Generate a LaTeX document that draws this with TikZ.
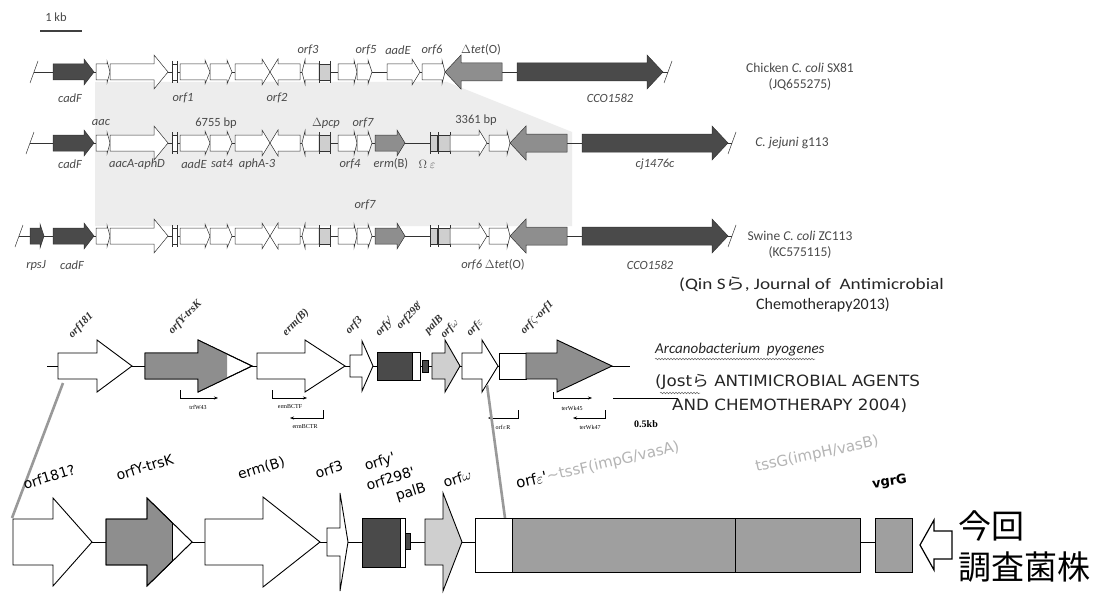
\documentclass[tikz,border=0pt]{standalone}
\usepackage{fontspec}
\setmainfont{Carlito}
\newfontfamily\tnr{Liberation Serif}
\newfontfamily\dvs{DejaVu Sans}
\newfontfamily\jp{Noto Sans CJK JP}
\usetikzlibrary{decorations.pathmorphing,arrows.meta}
\definecolor{dk}{HTML}{4A4A4A}
\definecolor{mg}{HTML}{8E8E8E}
\definecolor{lg}{HTML}{CFCFCF}
\definecolor{sh}{HTML}{EDEDED}
\definecolor{tx}{HTML}{4A4A4A}
\definecolor{ltx}{HTML}{B4B4B4}
\newcommand\RA[6]{(#1,#3-#6) -- (#2-#4,#3-#6) -- (#2-#4,#3-#5) -- (#2,#3) -- (#2-#4,#3+#5) -- (#2-#4,#3+#6) -- (#1,#3+#6) -- cycle}
\newcommand\LA[6]{(#2,#3-#6) -- (#1+#4,#3-#6) -- (#1+#4,#3-#5) -- (#1,#3) -- (#1+#4,#3+#5) -- (#1+#4,#3+#6) -- (#2,#3+#6) -- cycle}
\newcommand\tick[2]{\draw[tg] (#1,#2-11) -- (#1,#2+11);}
\newcommand\commonrow[1]{%
  \draw[tg,fill=dk] \RA{53}{94}{#1}{10}{13}{8};
  \draw[tg,fill=white] \RA{96}{110}{#1}{3}{11}{8};
  \draw[tg,fill=white] \RA{110}{168}{#1}{14}{17}{8};
  \draw[tg,fill=white] (172,#1-8) rectangle (177,#1+8);
  \tick{172}{#1}\tick{177}{#1}
  \draw[tg,fill=white] \RA{180}{210}{#1}{5}{12}{8};
  \draw[tg,fill=white] \RA{210}{232}{#1}{5}{12}{8};
  \draw[tg,fill=white] \RA{235}{270}{#1}{8}{13}{8};
  \draw[tg,fill=white] \LA{270}{300}{#1}{8}{13}{8};
  \draw[tg,fill=white] \LA{302}{319}{#1}{3}{12}{8};
  \draw[tg,fill=lg] (319,#1-8) rectangle (330,#1+8);
  \tick{319}{#1}\tick{330}{#1}
  \draw[tg,fill=white] \RA{338}{357}{#1}{3}{12}{8};
  \draw[tg,fill=white] \RA{357}{372}{#1}{4}{12}{8};
}
\newcommand\tailrow[1]{%
  \draw[tg,fill=mg] \RA{375}{405}{#1}{8}{13}{8};
  \draw[tg,fill=lg] (430,#1-8) rectangle (437,#1+8);
  \draw[tg,fill=lg] (438,#1-8) rectangle (450,#1+8);
  \tick{430}{#1}\tick{438}{#1}\tick{450}{#1}
  \draw[tg,fill=white] \RA{450}{487}{#1}{8}{13}{8};
  \draw[tg,fill=white] \RA{489}{510}{#1}{3}{12}{8};
  \draw[tg,fill=mg] \LA{510}{567}{#1}{16}{17}{9};
  \draw[tg,fill=dk] \RA{582}{728}{#1}{16}{17}{9};
}
\tikzset{
  tg/.style={draw=black!80,line width=0.5pt},
  gl/.style={draw=black,line width=0.9pt},
  tl/.style={font=\itshape\fontsize{12.5}{14}\selectfont,text=tx,inner sep=0pt},
  tu/.style={font=\fontsize{12.5}{14}\selectfont,text=tx,inner sep=0pt},
  rl/.style={font=\fontsize{13.5}{16}\selectfont,text=tx,inner sep=0pt},
  ml/.style={font=\tnr\bfseries\itshape\fontsize{11}{12}\selectfont,text=black!80,inner sep=0pt,rotate=45,anchor=south west},
  pl/.style={font=\tnr\fontsize{6}{7}\selectfont,inner sep=0pt},
  pr/.style={line width=0.5pt,-{Stealth[length=4pt,width=3pt]}},
  bl/.style={font=\dvs\fontsize{14}{16}\selectfont,inner sep=0pt,anchor=south west},
  cit/.style={font=\fontsize{16}{19}\selectfont,inner sep=0pt,text=black!85,anchor=west},
  capcit/.style={font=\dvs\fontsize{15.5}{19}\selectfont,inner sep=0pt,text=black!85,anchor=west},
  conn/.style={draw=black!40,line width=2.6pt},
  wavy/.style={decorate,decoration={snake,amplitude=0.8pt,segment length=3pt},black!60,line width=0.5pt},
}
\begin{document}
\begin{tikzpicture}[x=1pt,y=-1pt]
\useasboundingbox (0,0) rectangle (1098,594);
\fill[white] (0,0) rectangle (1098,594);
% shading
\fill[sh] (95,82) -- (447,82) -- (572,132) -- (572,226) -- (95,226) -- cycle;
% scale bar
\node[tu] (kb) at (56,17) {1 kb};
\draw[line width=1.2pt,black!75] (40,31) -- (82,31);
% ---------- row 1
\draw[tg] (34,72) -- (668,72);
\draw[tg] (30,83) -- (38,61);
\draw[tg] (664,83) -- (672,61);
\commonrow{72}
\draw[tg,fill=white] \RA{387}{420}{72}{8}{13}{8};
\draw[tg,fill=white] \RA{422}{445}{72}{3}{12}{8};
\draw[tg,fill=mg] \LA{445}{502}{72}{16}{17}{9};
\draw[tg,fill=dk] \RA{517}{663}{72}{16}{17}{9};
\node[tl] (r1a) at (308,50) {orf3};
\node[tl] (r1b) at (366,50) {orf5};
\node[tl] (r1c) at (398,50) {aadE};
\node[tl] (r1d) at (432,50) {orf6};
\node[tl] (r1e) at (481,50) {\upshape$\Delta$\itshape tet\upshape(O)};
\node[tl] (r1f) at (70,98) {cadF};
\node[tl] (r1g) at (183,98) {orf1};
\node[tl] (r1h) at (277,98) {orf2};
\node[tl] (r1i) at (610,98) {CCO1582};
\node[rl] (r1n) at (800,68) {Chicken \textit{C. coli} SX81};
\node[rl] (r1m) at (800,84) {(JQ655275)};
% ---------- row 2
\draw[tg] (30,143) -- (732,143);
\draw[tg] (26,154) -- (34,132);
\draw[tg] (728,154) -- (736,132);
\commonrow{143}
\tailrow{143}
\node[tl] (r2a) at (101,123) {aac};
\node[tu] (r2b) at (216,123) {6755 bp};
\node[tl] (r2c) at (326,123) {\upshape$\Delta$\itshape pcp};
\node[tl] (r2d) at (363,123) {orf7};
\node[tu] (r2e) at (476,120) {3361 bp};
\node[tl] (r2f) at (70,164) {cadF};
\node[tl] (r2g) at (137,164) {aacA-aphD};
\node[tl] (r2h) at (194,164) {aadE};
\node[tl] (r2i) at (222,164) {sat4};
\node[tl] (r2j) at (257,164) {aphA-3};
\node[tl] (r2k) at (350,164) {orf4};
\node[tl] (r2l) at (391,164) {erm\upshape(B)};
\node[tl] (r2m) at (427,164) {$\Omega$ $\varepsilon$};
\node[tl] (r2n) at (655,164) {cj1476c};
\node[rl] (r2r) at (792,143) {\textit{C. jejuni} g113};
% ---------- row 3
\draw[tg] (19,236) -- (732,236);
\draw[tg] (15,247) -- (23,225);
\draw[tg] (728,247) -- (736,225);
\draw[tg,fill=dk] \RA{30}{44}{236}{4}{12}{8};
\commonrow{236}
\tailrow{236}
\node[tl] (r3a) at (365,205) {orf7};
\node[tl] (r3b) at (36,265) {rpsJ};
\node[tl] (r3c) at (72,265) {cadF};
\node[tl] (r3d) at (493,265) {orf6 \upshape$\Delta$\itshape tet\upshape(O)};
\node[tl] (r3e) at (650,265) {CCO1582};
\node[rl] (r3r) at (800,236) {Swine \textit{C. coli} ZC113};
\node[rl] (r3s) at (800,252) {(KC575115)};
% citation 1
\node[cit] (c1a) at (679,284) {\scalebox{1.2}[1]{(Qin S{\jp ら}, Journal of\ \ Antimicrobial}};
\node[cit] (c1b) at (756,305) {Chemotherapy2013)};
% ---------- middle (A. pyogenes)
\draw[gl,line width=0.6pt] (47,366) -- (630,366);
\draw[gl,fill=white] \RA{58}{132}{366}{35}{26}{13};
\draw[gl,fill=white] \RA{145}{252}{366}{54}{26}{13};
\begin{scope}
\clip (140,330) rectangle (227,400);
\fill[mg] \RA{145}{252}{366}{54}{26}{13};
\end{scope}
\draw[gl] \RA{145}{252}{366}{54}{26}{13};
\draw[gl,fill=white] \RA{257}{345}{366}{40}{26}{13};
\draw[gl,fill=white] \RA{350}{373}{366}{11}{25}{11};
\draw[gl,fill=dk] (377,352) rectangle (412,380);
\draw[gl,fill=white] (412,352) rectangle (420,380);
\draw[gl,fill=dk,line width=0.5pt] (422,360) rectangle (428,372);
\draw[gl,fill=lg] \RA{432}{460}{366}{15}{26}{13};
\draw[gl,fill=white] \RA{462}{498}{366}{16}{26}{13};
\draw[gl,fill=white] (499,353) rectangle (526,379);
\draw[gl,fill=mg] \RA{526}{612}{366}{55}{26}{13};
\node[ml] (m1) at (74,340) {orf181};
\node[ml] (m2) at (174,336) {orfY-trsK};
\node[ml] (m3) at (288,338) {erm(B)};
\node[ml] (m4) at (351,336) {orf3};
\node[ml] (m5) at (381,338) {orfy$'$};
\node[ml] (m6) at (402,331) {orf298$'$};
\node[ml] (m7) at (430,336) {palB};
\node[ml] (m8) at (446,340) {orf$\omega$};
\node[ml] (m9) at (472,338) {orf$\varepsilon$};
\node[ml] (m10) at (526,336) {orf$\zeta$-orf1};
% primers
\coordinate (p1a) at (180,390); \coordinate (p1b) at (218,398);
\draw[pr] (p1a) |- (p1b);
\node[pl] (p1l) at (198,407) {trfW43};
\coordinate (p2a) at (272,390); \coordinate (p2b) at (307,398);
\draw[pr] (p2a) |- (p2b);
\node[pl] (p2l) at (290,407) {ermBCTF};
\coordinate (p3a) at (323,410); \coordinate (p3b) at (290,418);
\draw[pr] (p3a) |- (p3b);
\node[pl] (p3l) at (305,427) {ermBCTR};
\coordinate (p4a) at (518,410); \coordinate (p4b) at (488,418);
\draw[pr] (p4a) |- (p4b);
\node[pl] (p4l) at (503,427) {orf$\varepsilon$R};
\coordinate (p5a) at (553,392); \coordinate (p5b) at (592,398);
\draw[pr] (p5a) |- (p5b);
\node[pl] (p5l) at (572,408) {terWk45};
\coordinate (p6a) at (605,410); \coordinate (p6b) at (573,418);
\draw[pr] (p6a) |- (p6b);
\node[pl] (p6l) at (590,427) {terWk47};
\draw[line width=0.7pt] (613,398) -- (678,398);
\node[font=\tnr\bfseries\fontsize{10}{12}\selectfont,inner sep=0pt] (half) at (646,424) {0.5kb};
% citation 2
\node[font=\itshape\fontsize{15}{18}\selectfont,inner sep=0pt,anchor=west,text=black!85] (ap) at (655,350) {Arcanobacterium\ \ pyogenes};
\draw[wavy] (655,359) -- (815,359);
\node[capcit] (c2a) at (655,382) {\scalebox{1.08}[1]{(Jost{\jp ら} ANTIMICROBIAL AGENTS}};
\draw[wavy] (660,393) -- (700,393);
\node[capcit] (c2b) at (672,406) {\scalebox{1.08}[1]{AND CHEMOTHERAPY 2004)}};
% connectors
\draw[conn] (63,383) -- (12,518);
\draw[conn] (487,385) -- (505,518);
% ---------- bottom row
\draw[gl] (92,542) -- (875,542);
\draw[gl,fill=white] \RA{13}{92}{542}{39}{44}{23};
\draw[gl,fill=mg] \RA{106}{192}{542}{45}{44}{23};
\begin{scope}
\clip (172,480) rectangle (200,600);
\fill[white] \RA{106}{192}{542}{45}{44}{23};
\end{scope}
\draw[gl] \RA{106}{192}{542}{45}{44}{23};
\draw[gl] (172,523) -- (172,561);
\draw[gl,fill=white] \RA{205}{320}{542}{57}{45}{23};
\draw[gl,fill=white] \RA{327}{348}{542}{8}{49}{14};
\draw[gl,fill=dk] (362,518) rectangle (400,567);
\draw[gl,fill=white] (400,518) rectangle (405,567);
\draw[gl,fill=dk,line width=0.6pt] (405,533) rectangle (410,549);
\draw[gl,fill=lg] \RA{425}{462}{542}{19}{49}{23};
\draw[gl,fill=white] (475,518) rectangle (512,572);
\draw[gl,fill=mg!85] (512,518) rectangle (735,572);
\draw[gl,fill=mg!85] (735,518) rectangle (860,572);
\draw[gl,fill=mg!85] (875,518) rectangle (912,572);
\node[bl,rotate=17] (b1) at (25,490) {orf181?};
\node[bl,rotate=17] (b2) at (118,481) {orfY-trsK};
\node[bl,rotate=17] (b3) at (240,482) {erm(B)};
\node[bl,rotate=17] (b4) at (317,479) {orf3};
\node[bl,rotate=17] (b5) at (367,474) {orfy'};
\node[bl,rotate=17] (b6) at (368,491) {orf298'};
\node[bl,rotate=17] (b7) at (398,504) {palB};
\node[bl,rotate=17] (b8) at (445,488) {orf$\omega$};
\node[bl,rotate=13,font=\dvs\fontsize{15}{17}\selectfont] (b9) at (518,492) {orf$\varepsilon$'{\color{ltx}\textasciitilde tssF(impG/vasA)}};
\node[bl,rotate=12,text=ltx,font=\dvs\fontsize{15}{17}\selectfont] (b10) at (757,475) {tssG(impH/vasB)};
\node[bl,rotate=8,font=\dvs\bfseries\fontsize{13}{15}\selectfont] (b11) at (873,491) {vgrG};
% arrow and Japanese
\draw[line width=1.2pt,fill=white] \LA{920}{952}{545}{14}{25}{14};
\node[font=\jp\fontsize{33}{37}\selectfont,inner sep=0pt,anchor=west] (j1) at (958,526) {今回};
\node[font=\jp\fontsize{33}{37}\selectfont,inner sep=0pt,anchor=west] (j2) at (958,567) {調査菌株};
\end{tikzpicture}
\end{document}
